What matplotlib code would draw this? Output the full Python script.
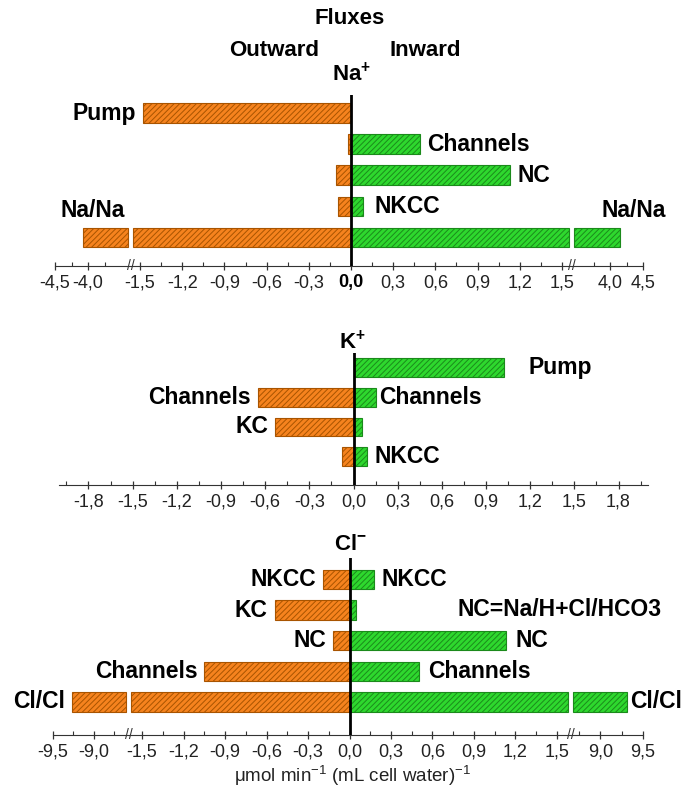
import numpy as np
import matplotlib
matplotlib.use('Agg')
import matplotlib.pyplot as plt

plt.rcParams['font.family'] = ['Liberation Sans', 'DejaVu Sans']
plt.rcParams['mathtext.fontset'] = 'custom'
plt.rcParams['mathtext.rm'] = 'Liberation Sans'
plt.rcParams['mathtext.bf'] = 'Liberation Sans:bold'
plt.rcParams['hatch.linewidth'] = 0.7

# Na+ fluxes (outward negative, inward positive)
na_rows = ['Pump', 'Channels', 'NC', 'NKCC', 'Na/Na']
na_out = [-1.48, -0.02, -0.11, -0.09, -4.08]
na_in = [0.0, 0.49, 1.13, 0.085, 4.15]
na_out_lab = ['Pump', '', '', '', 'Na/Na']
na_in_lab = ['', 'Channels', 'NC', 'NKCC', 'Na/Na']
na_ticks = [-4.5, -4.0, -1.5, -1.2, -0.9, -0.6, -0.3, 0.0,
            0.3, 0.6, 0.9, 1.2, 1.5, 4.0, 4.5]

# K+ fluxes
k_rows = ['Pump', 'Channels', 'KC', 'NKCC']
k_out = [0.0, -0.65, -0.53, -0.08]
k_in = [1.02, 0.15, 0.06, 0.095]
k_out_lab = ['', 'Channels', 'KC', '']
k_in_lab = ['Pump', 'Channels', '', 'NKCC']
k_ticks = [-1.8, -1.5, -1.2, -0.9, -0.6, -0.3, 0.0,
           0.3, 0.6, 0.9, 1.2, 1.5, 1.8]

# Cl- fluxes
cl_rows = ['NKCC', 'KC', 'NC', 'Channels', 'Cl/Cl']
cl_out = [-0.19, -0.54, -0.12, -1.05, -9.27]
cl_in = [0.18, 0.05, 1.13, 0.50, 9.31]
cl_out_lab = ['NKCC', 'KC', 'NC', 'Channels', 'Cl/Cl']
cl_in_lab = ['NKCC', '', 'NC', 'Channels', 'Cl/Cl']
cl_ticks = [-9.5, -9.0, -1.5, -1.2, -0.9, -0.6, -0.3, 0.0,
            0.3, 0.6, 0.9, 1.2, 1.5, 9.0, 9.5]

ORANGE, ORANGE_E = '#F6831E', '#A85400'
GREEN, GREEN_E = '#2ED82E', '#1B8A1B'
LABSIZE = 16.5

W, H = 689, 798
fig = plt.figure(figsize=(W / 100, H / 100), dpi=100)


def pieces(v, xp):
    # split a bar that runs across an axis break
    if len(xp) == 6:
        if v < xp[2]:
            return [(0, xp[2]), (xp[1], v)]
        if v > xp[3]:
            return [(0, xp[3]), (xp[4], v)]
    return [(0, v)]


def fmt(v):
    return ('%.1f' % v).replace('.', ',')


def panel(top, bottom, xp, fp, ylim, rows, out, inn, out_lab, in_lab,
          ticks, minor, pads=None, above_last=False, bold_zero=False):
    pads = pads or {}
    ax = fig.add_axes([fp[0] / W, 1 - bottom / H, (fp[-1] - fp[0]) / W, (bottom - top) / H])
    ax.set_xscale('function', functions=(lambda v: np.interp(v, xp, fp),
                                         lambda p: np.interp(p, fp, xp)))
    ax.set_xlim(xp[0], xp[-1])
    ax.set_ylim(*ylim)
    y = np.arange(len(rows))
    for i in y:
        for vals, fc, ec in ((out, ORANGE, ORANGE_E), (inn, GREEN, GREEN_E)):
            if vals[i] == 0:
                continue
            for a, b in pieces(vals[i], xp):
                ax.barh(i, b - a, left=a, height=0.63, color=fc, edgecolor=ec,
                        linewidth=0.8, hatch='//////')
    # text labels next to the bars
    for i in y:
        last = above_last and i == len(rows) - 1
        if out_lab[i]:
            dx = pads.get(('o', i), -7)
            if last:
                ax.annotate(out_lab[i], (out[i], i), xytext=(10, 27), textcoords='offset pixels',
                            ha='center', va='center', fontsize=LABSIZE, fontweight='bold')
            else:
                ax.annotate(out_lab[i], (out[i], i), xytext=(dx, 0), textcoords='offset pixels',
                            ha='right', va='center', fontsize=LABSIZE, fontweight='bold')
        if in_lab[i]:
            dx = pads.get(('i', i), 7)
            if last:
                ax.annotate(in_lab[i], (inn[i], i), xytext=(14, 27), textcoords='offset pixels',
                            ha='center', va='center', fontsize=LABSIZE, fontweight='bold')
            else:
                ax.annotate(in_lab[i], (inn[i], i), xytext=(dx, 0), textcoords='offset pixels',
                            ha='left', va='center', fontsize=LABSIZE, fontweight='bold')
    ax.axvline(0, color='black', lw=2, zorder=5)
    for s in ('top', 'left', 'right'):
        ax.spines[s].set_visible(False)
    ax.spines['bottom'].set_color('#333333')
    ax.set_yticks([])
    ax.set_xticks(ticks)
    ax.set_xticklabels([fmt(t) for t in ticks])
    ax.set_xticks(minor, minor=True)
    ax.tick_params(axis='x', which='major', direction='inout', length=6, width=0.9,
                   labelsize=13, pad=3, colors='#333333', labelcolor='#222222')
    ax.tick_params(axis='x', which='minor', direction='in', length=3, width=0.8, colors='#333333')
    if bold_zero:
        for lab in ax.get_xticklabels():
            if lab.get_text() == '0,0':
                lab.set_fontweight('bold')
                lab.set_color('black')
    # break marks
    if len(xp) == 6:
        for xm in ((xp[1] + xp[2]) / 2, (xp[3] + xp[4]) / 2):
            ax.text(xm, 0, '//', transform=ax.get_xaxis_transform(), ha='center',
                    va='center', fontsize=10, color='#333333', clip_on=False)
    return ax


main_minor = list(np.round(np.arange(-1.35, 1.36, 0.3), 2))

panel(95, 266,
      [-4.5, -3.4, -1.55, 1.55, 3.45, 4.5], [55, 128, 133, 569, 574, 643],
      (4.92, -0.58), na_rows, na_out, na_in, na_out_lab, na_in_lab,
      na_ticks, main_minor + [-4.25, -3.75, 3.75, 4.25],
      pads={('i', 3): 12, ('i', 2): 8}, above_last=True, bold_zero=True)

panel(353, 485, [-2.0, 2.0], [59, 648],
      (3.96, -0.49), k_rows, k_out, k_in, k_out_lab, k_in_lab,
      k_ticks, list(np.round(np.arange(-1.95, 1.96, 0.3), 2)),
      pads={('i', 0): 25, ('i', 1): 4})

panel(558, 735,
      [-9.5, -8.6, -1.58, 1.58, 8.68, 9.5], [53, 126, 131, 568, 573, 643],
      (5.08, -0.70), cl_rows, cl_out, cl_in, cl_out_lab, cl_in_lab,
      cl_ticks, main_minor + [-9.25, -8.75, 8.75, 9.25],
      pads={('i', 2): 10, ('i', 3): 9, ('i', 4): 3})

# headings
hd = dict(ha='center', va='center', fontsize=16, fontweight='bold')
fig.text(350 / W, 1 - 19 / H, 'Fluxes', **hd)
fig.text(274 / W, 1 - 50 / H, 'Outward', **hd)
fig.text(425 / W, 1 - 50 / H, 'Inward', **hd)
fig.text(352 / W, 1 - 74 / H, r'Na$^{\mathbf{+}}$', **hd)
fig.text(352 / W, 1 - 342 / H, r'K$^{\mathbf{+}}$', **hd)
fig.text(350 / W, 1 - 544 / H, r'Cl$^{\mathbf{-}}$', **hd)
fig.text(560 / W, 1 - 609 / H, 'NC=Na/H+Cl/HCO3', ha='center', va='center',
         fontsize=LABSIZE, fontweight='bold')
fig.text(352 / W, 1 - 776 / H, 'μmol min$^{-1}$ (mL cell water)$^{-1}$',
         ha='center', va='center', fontsize=13.5, color='#222222')

fig.savefig('out.png', dpi=100)
